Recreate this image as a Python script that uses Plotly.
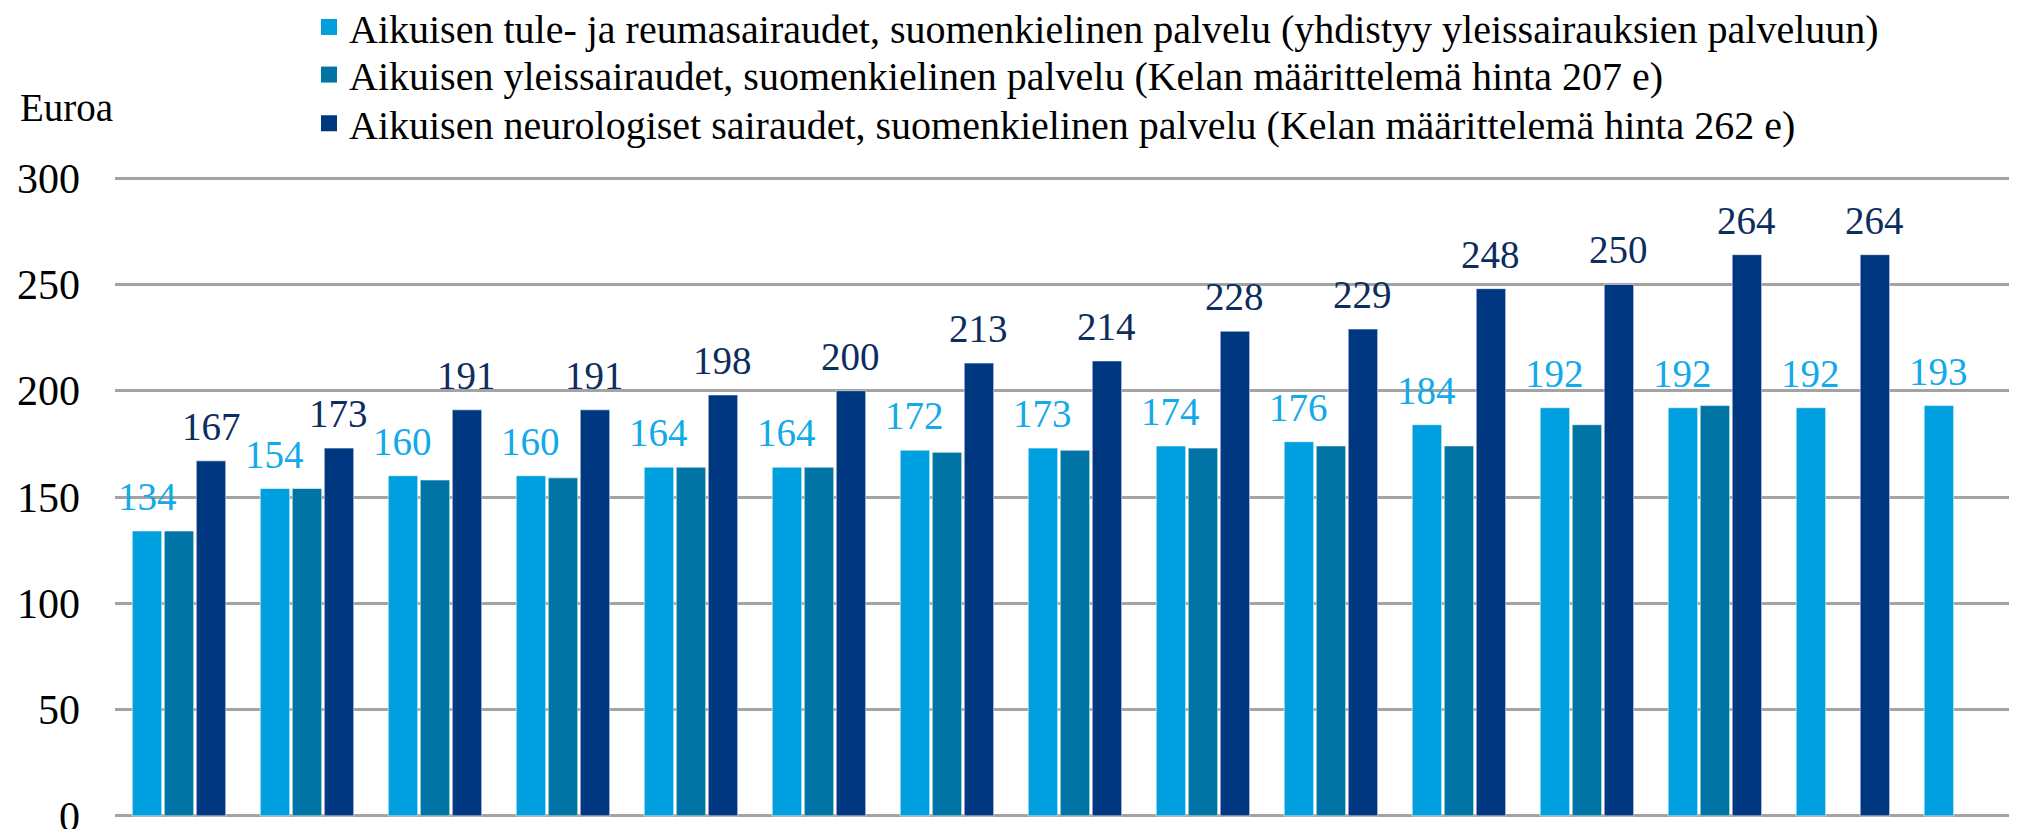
import plotly.graph_objects as go

# vuodet (x-akselin nimiöt jäävät kuvassa rajauksen alle)
vuodet = ['2006', '2007', '2008', '2009', '2010', '2011', '2012', '2013',
          '2014', '2015', '2016', '2017', '2018', '2019', '2020']

tule = [134, 154, 160, 160, 164, 164, 172, 173, 174, 176, 184, 192, 192, 192, 193]
yleis = [134, 154, 158, 159, 164, 164, 171, 172, 173, 174, 174, 184, 193, None, None]
neuro = [167, 173, 191, 191, 198, 200, 213, 214, 228, 229, 248, 250, 264, 264, None]

nimet = ['Aikuisen tule- ja reumasairaudet, suomenkielinen palvelu (yhdistyy yleissairauksien palveluun)',
         'Aikuisen yleissairaudet, suomenkielinen palvelu (Kelan määrittelemä hinta 207 e)',
         'Aikuisen neurologiset sairaudet, suomenkielinen palvelu (Kelan määrittelemä hinta 262 e)']

y_ticks = [0, 50, 100, 150, 200, 250, 300]

varit = ['#009fdf', '#0074a4', '#003781']
label_varit = ['#12aae8', None, '#0d2d5e']

fontti = 'Liberation Serif'
leveys = 0.23
siirrot = [-0.365, -0.115, 0.135]

fig = go.Figure()

sarjat = [tule, yleis, neuro]
for i, sarja in enumerate(sarjat):
    fig.add_trace(go.Bar(
        x=list(range(len(vuodet))), y=sarja, width=leveys, offset=siirrot[i],
        marker=dict(color=varit[i], line=dict(color='rgba(255,255,255,0.55)', width=1)),
        showlegend=False, hoverinfo='y'))

# selitteet erikseen (oma selite jokaiselle riville, jotta riviväli täsmää)
selitteet = ['legend', 'legend2', 'legend3']
for i in range(3):
    fig.add_trace(go.Scatter(
        x=[None], y=[None], mode='markers', name=nimet[i], legend=selitteet[i],
        marker=dict(symbol='square', size=20, color=varit[i])))

# arvot pylväiden päälle (vain tule- ja neurologiset)
annot = []
for i in [0, 2]:
    for j, arvo in enumerate(sarjat[i]):
        if arvo is None:
            continue
        annot.append(dict(
            x=j + siirrot[i] + leveys / 2, y=arvo, xref='x', yref='y',
            text=str(arvo), showarrow=False, yanchor='bottom', yshift=11,
            font=dict(family=fontti, size=39, color=label_varit[i])))

annot.append(dict(x=-0.051, y=1.106, xref='paper', yref='paper', text='Euroa',
                  showarrow=False, xanchor='left', yanchor='middle',
                  font=dict(family=fontti, size=39, color='black')))

selite_tyyli = dict(x=0.102, xanchor='left', yanchor='middle',
                    font=dict(family=fontti, size=40, color='black'),
                    bgcolor='rgba(0,0,0,0)')

# sivun oletusmarginaali (8 px) huomioitu koossa
fig.update_layout(
    width=2009, height=821,
    margin=dict(l=107, r=0, t=168, b=11, autoexpand=False),
    plot_bgcolor='white', paper_bgcolor='white',
    font=dict(family=fontti, size=37, color='black'),
    annotations=annot,
    legend=dict(y=1.232, **selite_tyyli),
    legend2=dict(y=1.158, **selite_tyyli),
    legend3=dict(y=1.082, **selite_tyyli),
)

fig.update_xaxes(range=[-0.5, 14.36], showticklabels=False, showgrid=False,
                 zeroline=False, ticks='')
fig.update_yaxes(range=[-1, 301], tickvals=y_ticks, showgrid=True,
                 gridcolor='#a3a3a3', gridwidth=2.5, zeroline=False,
                 ticks='', ticklabelstandoff=34, ticklabeloverflow='allow',
                 tickfont=dict(family=fontti, size=42, color='black'))

fig.write_html('out.html')
